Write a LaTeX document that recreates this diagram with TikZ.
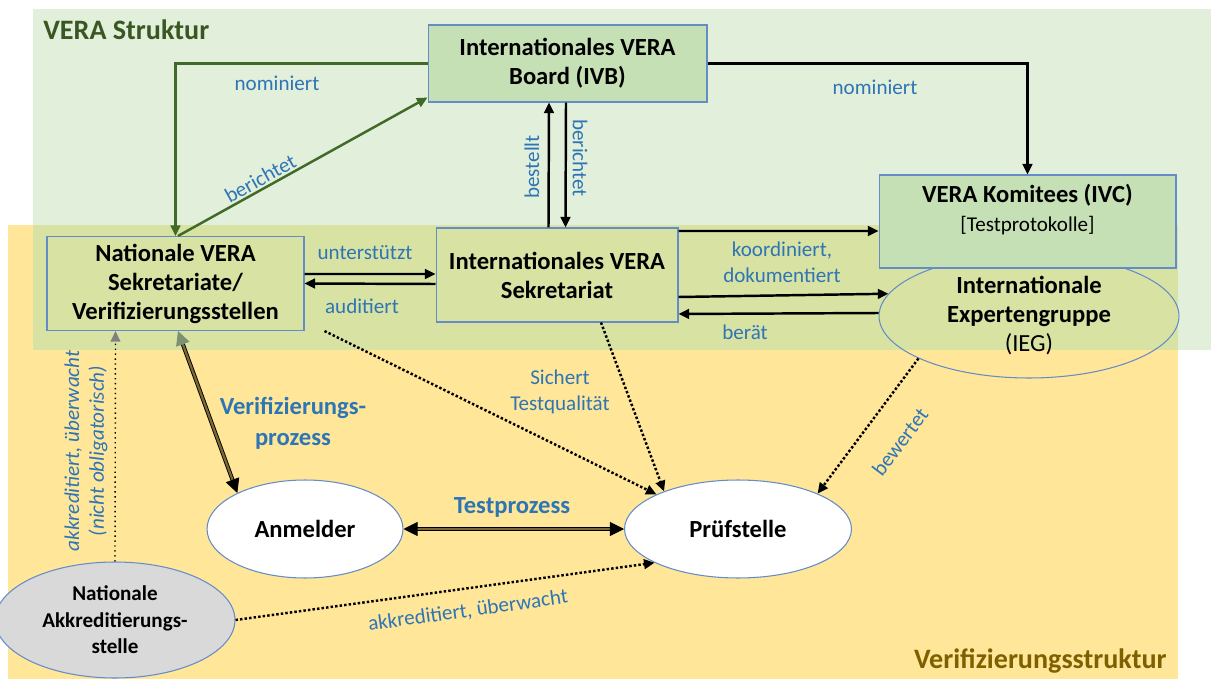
\documentclass[tikz,border=0pt]{standalone}
\usepackage{fontspec}
\setmainfont{Carlito}
\usetikzlibrary{arrows.meta,shapes.geometric}

\definecolor{strukgreen}{RGB}{226,239,218}
\definecolor{verifyellow}{RGB}{255,230,153}
\definecolor{overlapcol}{RGB}{216,226,162}
\definecolor{boxgreen}{RGB}{197,224,180}
\definecolor{edgeblue}{RGB}{100,140,200}
\definecolor{lblblue}{RGB}{46,117,182}
\definecolor{darkgreen}{RGB}{65,105,40}
\definecolor{titlegreen}{RGB}{56,87,35}
\definecolor{titlegold}{RGB}{127,96,0}
\definecolor{akkgray}{RGB}{217,217,217}
\definecolor{dblfill}{RGB}{120,105,55}
\definecolor{headgreen}{RGB}{125,145,115}

\begin{document}
\begin{tikzpicture}[x=0.02cm,y=-0.02cm,
    box/.style={draw=edgeblue,line width=0.6pt,align=center,font=\fontsize{14}{16.5}\selectfont\bfseries},
    ell/.style={ellipse,draw=edgeblue,line width=0.6pt,align=center,inner sep=0pt,font=\fontsize{14}{16.5}\selectfont\bfseries},
    lbl/.style={text=lblblue,align=center,font=\fontsize{12}{15}\selectfont,inner sep=1pt},
    arr/.style={-{Triangle[length=6pt,width=5.5pt]},line width=1.4pt},
    dots/.style={arr,dash pattern=on 1.4pt off 1.2pt},
    thindots/.style={-{Triangle[length=6pt,width=5.5pt,color=gray]},line width=0.8pt,dotted},
    dbl/.style={draw=black,line width=0.5pt,double=dblfill,double distance=1.3pt}]
    \useasboundingbox (0,0) rectangle (1211,679);

    % Hintergrund
    \fill[strukgreen] (33,9) rectangle (1211,350);
    \fill[verifyellow] (8,225) rectangle (1178,679);
    \fill[overlapcol] (33,225) rectangle (1178,350);

    \node[anchor=west,inner sep=0pt,text=titlegreen,font=\fontsize{16}{19}\selectfont\bfseries] (strukt) at (43,30) {VERA Struktur};
    \node[anchor=east,inner sep=0pt,text=titlegold,font=\fontsize{16}{19}\selectfont\bfseries] (verst) at (1167,661) {Verifizierungsstruktur};

    % Knoten
    \node[box,fill=boxgreen,minimum width=5.58cm,minimum height=1.54cm] (ivb) at (567.5,63.5) {Internationales VERA\\Board (IVB)};
    \node[box,minimum width=5.14cm,minimum height=1.88cm] (natsek) at (175.5,283.5) {Nationale VERA\\Sekretariate/\\Verifizierungsstellen};
    \node[box,minimum width=4.84cm,minimum height=1.88cm] (intsek) at (557,275) {Internationales VERA\\Sekretariat};
    \node[ell,minimum width=6cm,minimum height=2.48cm] (ieg) at (1029,316) {Internationale\\Expertengruppe\\\mdseries(IEG)};
    \node[box,fill=boxgreen,minimum width=5.94cm,minimum height=1.86cm] (ivc) at (1027.5,221.5) {VERA Komitees (IVC)\\{\mdseries\fontsize{12}{15}\selectfont[Testprotokolle]}\rule[-16pt]{0pt}{16pt}};
    \node[ell,fill=white,minimum width=3.92cm,minimum height=1.96cm] (anm) at (305,529) {Anmelder};
    \node[ell,fill=white,minimum width=4.54cm,minimum height=1.96cm] (pruef) at (738,529) {Prüfstelle};
    \node[ell,fill=akkgray,minimum width=4.8cm,minimum height=2.32cm,font=\fontsize{12}{15}\selectfont\bfseries] (akk) at (115,620) {Nationale\\Akkreditierungs-\\stelle};

    % Pfeile VERA Struktur
    \draw[arr,darkgreen] (ivb.west) -| (natsek.north);
    \draw[arr,darkgreen] ([xshift=0.05cm]natsek.north) -- ([yshift=0.1cm]ivb.south west) node[lbl,pos=0.35,above,sloped] (lber1) {berichtet};
    \draw[arr] ([xshift=-0.17cm]intsek.north) -- ([xshift=-0.37cm]ivb.south);
    \draw[arr] ([xshift=-0.03cm]ivb.south) -- ([xshift=0.17cm]intsek.north);
    \draw[arr] (ivb.east) -| (ivc.north);
    \draw[arr] ([yshift=0.19cm]natsek.east) -- ([yshift=0.02cm]intsek.west);
    \draw[arr] ([yshift=-0.18cm]intsek.west) -- (natsek.east);
    \draw[arr] ([yshift=0.88cm]intsek.east) -- ([yshift=-0.19cm]ivc.west);
    \draw[arr] ([yshift=-0.44cm]intsek.east) -- (ieg.171);
    \draw[arr] ([yshift=0.06cm]ieg.west) -- ([yshift=-0.78cm]intsek.east);

    % Pfeile Verifizierungsstruktur
    \draw[dots] ([xshift=0.4cm]natsek.south east) -- (pruef.157);
    \draw[dots] ([xshift=0.88cm]intsek.south) -- (pruef.153);
    \draw[dots] (ieg.201) -- (pruef.24);
    \draw[dots] (akk.east) -- (pruef.202);
    \draw[thindots] (akk.north) -- ([xshift=-1.2cm]natsek.south);
    \draw[dbl,{Triangle[length=8pt,width=8pt,color=headgreen]}-{Triangle[length=8pt,width=8pt,color=black]}] ([xshift=0.05cm]natsek.south) -- (anm.152);
    \draw[dbl,{Triangle[length=8pt,width=8pt,color=black]}-{Triangle[length=8pt,width=8pt,color=black]}] (anm.east) -- (pruef.west);

    % Beschriftungen
    \node[lbl] (lnom1) at (277,83) {nominiert};
    \node[lbl] (lnom2) at (875,87) {nominiert};
    \node[lbl,rotate=90] (lbest) at (532,167) {bestellt};
    \node[lbl,rotate=-90] (lber2) at (580,158) {berichtet};
    \node[lbl] (lunt) at (365,253) {unterstützt};
    \node[lbl] (laud) at (362,306) {auditiert};
    \node[lbl] (lkoord) at (782,262) {koordiniert,\\dokumentiert};
    \node[lbl] (lberaet) at (745,332) {berät};
    \node[lbl] (lsich) at (560,392) {Sichert\\Testqualität};
    \node[lbl,rotate=53] (lbew) at (900,442) {bewertet};
    \node[lbl,rotate=8] (lakk) at (468,611) {akkreditiert, überwacht};
    \node[lbl,rotate=90,font=\fontsize{12}{14}\selectfont\itshape] (lakk2) at (86,451) {akkreditiert, überwacht\\(nicht obligatorisch)};
    \node[lbl,font=\fontsize{14}{17.5}\selectfont\bfseries] (lverif) at (293,423) {Verifizierungs-\\prozess};
    \node[lbl,font=\fontsize{14}{17}\selectfont\bfseries] (ltest) at (512,507) {Testprozess};
\end{tikzpicture}
\end{document}
